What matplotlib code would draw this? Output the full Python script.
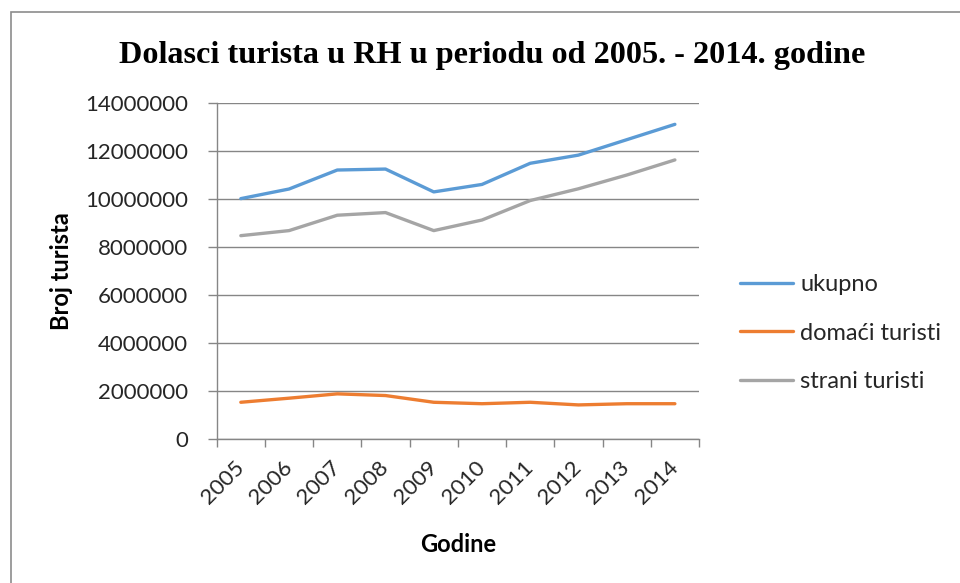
import matplotlib
matplotlib.use("Agg")
import matplotlib.pyplot as plt
from matplotlib.patches import Rectangle

years = ["2005", "2006", "2007", "2008", "2009", "2010", "2011", "2012", "2013", "2014"]
ukupno = [10010000, 10410000, 11200000, 11240000, 10290000, 10600000, 11480000, 11820000, 12460000, 13100000]
domaci = [1540000, 1710000, 1890000, 1820000, 1540000, 1480000, 1540000, 1430000, 1480000, 1480000]
strani = [8470000, 8680000, 9320000, 9430000, 8680000, 9120000, 9930000, 10420000, 10990000, 11620000]
yticks = [0, 2000000, 4000000, 6000000, 8000000, 10000000, 12000000, 14000000]

SANS = "Lato"
GRID = "#868686"
TXT = "#262626"

fig = plt.figure(figsize=(9.6, 5.83), dpi=100)
fig.patch.set_facecolor("white")

W, H = 960, 583
# outer chart border
fig.patches.append(Rectangle((10.5 / W, -0.1), 1.2, (H - 12.5) / H + 0.1,
                             transform=fig.transFigure, fill=False,
                             edgecolor="#8c8c8c", linewidth=1.2))

ax = fig.add_axes([216.7 / W, 1 - 439.3 / H, (699 - 216.7) / W, (439.3 - 102.7) / H])
x = list(range(len(years)))
ax.plot(x, ukupno, color="#5B9BD5", lw=2.4, label="ukupno", solid_capstyle="round")
ax.plot(x, domaci, color="#ED7D31", lw=2.4, label="domaći turisti", solid_capstyle="round")
ax.plot(x, strani, color="#A5A5A5", lw=2.4, label="strani turisti", solid_capstyle="round")

ax.set_xlim(-0.5, len(years) - 0.5)
ax.set_ylim(0, 14000000)
ax.set_yticks(yticks)
ax.set_yticklabels([str(v) for v in yticks], fontsize=16, color=TXT, family=SANS)
ax.set_xticks(x)
ax.set_xticklabels(years, fontsize=16, color=TXT, family=SANS, rotation=45,
                   ha="right", va="center", rotation_mode="anchor")
ax.set_xticks([i - 0.5 for i in range(len(years) + 1)], minor=True)
ax.tick_params(axis="x", which="major", length=0, pad=18)
ax.tick_params(axis="x", which="minor", length=6, color=GRID, width=1)
ax.tick_params(axis="y", which="major", length=6.5, color=GRID, width=1, pad=14)
ax.grid(axis="y", color=GRID, lw=1)
ax.set_axisbelow(True)
for s in ["top", "right"]:
    ax.spines[s].set_visible(False)
for s in ["left", "bottom"]:
    ax.spines[s].set_color(GRID)
    ax.spines[s].set_linewidth(1)

fig.text(492 / W, 1 - 55 / H, "Dolasci turista u RH u periodu od 2005. - 2014. godine",
         ha="center", va="center", fontsize=23.2, fontweight="bold", family="Liberation Serif")
fig.text(61.7 / W, 1 - 271 / H, "Broj turista", rotation=90, ha="center", va="center",
         fontsize=17, fontweight="bold", family=SANS, color="black")
fig.text(458 / W, 1 - 545 / H, "Godine", ha="center", va="center",
         fontsize=17, fontweight="bold", family=SANS, color="black")

leg = ax.legend(loc="center left", bbox_to_anchor=(740 / W, 1 - 333 / H),
                bbox_transform=fig.transFigure, frameon=False,
                prop={"family": SANS, "size": 17}, handlelength=2.25,
                handletextpad=0.3, labelspacing=1.16, borderpad=0, borderaxespad=0)
for t in leg.get_texts():
    t.set_color(TXT)

fig.savefig("out.png", dpi=100, facecolor="white")
